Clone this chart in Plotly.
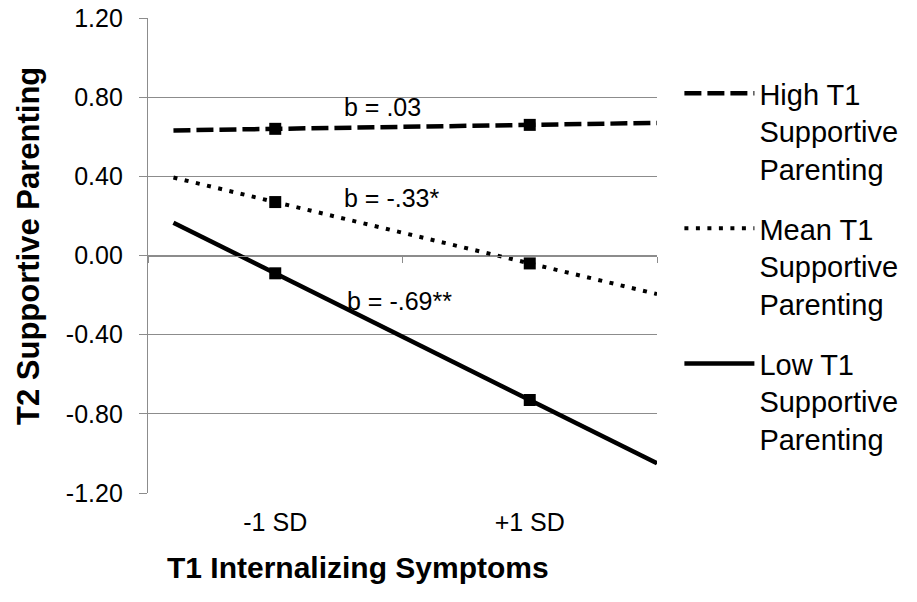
import plotly.graph_objects as go

# ---- data ----
categories = ["-1 SD", "+1 SD"]
series_names = ["High T1<br>Supportive<br>Parenting",
                "Mean T1<br>Supportive<br>Parenting",
                "Low T1<br>Supportive<br>Parenting"]
high_vals = [0.64, 0.66]
mean_vals = [0.27, -0.04]
low_vals = [-0.09, -0.73]
slope_labels = ["b = .03", "b = -.33*", "b = -.69**"]
y_ticks = [-1.2, -0.8, -0.4, 0.0, 0.4, 0.8, 1.2]
y_tick_labels = ["-1.20", "-0.80", "-0.40", "0.00", "0.40", "0.80", "1.20"]

# trendline extent (in category-index units), as forecast backward/forward
trend_start, trend_end = -0.4, 1.5

FONT = "Liberation Sans, Arial, sans-serif"
GRID = "#8c8c8c"

styles = [
    dict(dash="17px,6px", width=4.5),
    dict(dash="4px,7.5px", width=4),
    dict(dash="solid", width=4.5),
]

fig = go.Figure()
xs_cat = list(range(len(categories)))
all_vals = [high_vals, mean_vals, low_vals]

for i, (name, vals, st) in enumerate(zip(series_names, all_vals, styles)):
    slope = (vals[1] - vals[0]) / (xs_cat[1] - xs_cat[0])
    tx = [trend_start, trend_end]
    ty = [vals[0] + slope * (x - xs_cat[0]) for x in tx]
    fig.add_trace(go.Scatter(
        x=tx, y=ty, mode="lines", name=name, legendgroup=f"g{i}",
        line=dict(color="black", width=st["width"], dash=st["dash"]),
        hoverinfo="skip"))
    fig.add_trace(go.Scatter(
        x=xs_cat, y=vals, mode="markers", showlegend=False, legendgroup=f"g{i}",
        marker=dict(symbol="square", size=12, color="black"),
        hovertemplate="%{y:.2f}<extra></extra>"))

# slope annotations
ann_pos = [(0.262, 0.75), (0.262, 0.29), (0.274, -0.23)]
for txt, (ax, ay) in zip(slope_labels, ann_pos):
    fig.add_annotation(x=ax, y=ay, xref="x", yref="y", text=txt, showarrow=False,
                       xanchor="left", yanchor="middle",
                       font=dict(family=FONT, size=25, color="black"))

# axis titles (positioned as in the original)
fig.add_annotation(x=0.4126, y=-0.156, xref="paper", yref="paper",
                   text="<b>T1 Internalizing Symptoms</b>", showarrow=False,
                   xanchor="center", yanchor="middle",
                   font=dict(family=FONT, size=30, color="black"))
fig.add_annotation(x=-0.2358, y=0.52, xref="paper", yref="paper",
                   text="<b>T2 Supportive Parenting</b>", showarrow=False, textangle=-90,
                   xanchor="center", yanchor="middle",
                   font=dict(family=FONT, size=31, color="black"))

fig.update_layout(
    width=917, height=602,
    margin=dict(l=148, r=260, t=18, b=109, autoexpand=False),
    paper_bgcolor="white", plot_bgcolor="white",
    font=dict(family=FONT, size=25, color="black"),
    showlegend=True,
    legend=dict(x=1.044, xanchor="left", y=0.895, yanchor="top",
                font=dict(family=FONT, size=29, color="black"),
                valign="top", itemwidth=70, tracegroupgap=19,
                bgcolor="rgba(0,0,0,0)"),
    xaxis=dict(range=[-0.5, 1.5], tickvals=xs_cat, ticktext=categories,
               showgrid=False, zeroline=False, showline=False, ticks="",
               ticklabelstandoff=12, tickfont=dict(size=25), automargin=False),
    xaxis2=dict(overlaying="x", anchor="free", position=0.5, range=[-0.5, 1.5],
                tickvals=[-0.5, 0.5, 1.5], ticks="outside", ticklen=6, tickwidth=1.3,
                tickcolor=GRID, showticklabels=False, showgrid=False, zeroline=False,
                showline=True, linecolor=GRID, linewidth=1.3, automargin=False),
    yaxis=dict(range=[-1.2, 1.2], tickvals=y_ticks, ticktext=y_tick_labels,
               showgrid=True, gridcolor=GRID, gridwidth=1.3, zeroline=False,
               showline=True, linecolor=GRID, linewidth=1.3,
               ticks="outside", ticklen=8, tickcolor=GRID, tickwidth=1.3,
               ticklabelstandoff=11, tickfont=dict(size=25), automargin=False,
               ticklabeloverflow="allow"),
)

# empty helper trace so the secondary category axis (drawn at y = 0) is rendered
fig.add_trace(go.Scatter(x=[None], y=[None], xaxis="x2", showlegend=False, hoverinfo="skip"))

fig.write_html("out.html", config={"displayModeBar": False},
               post_script="document.body.style.margin='0';")
